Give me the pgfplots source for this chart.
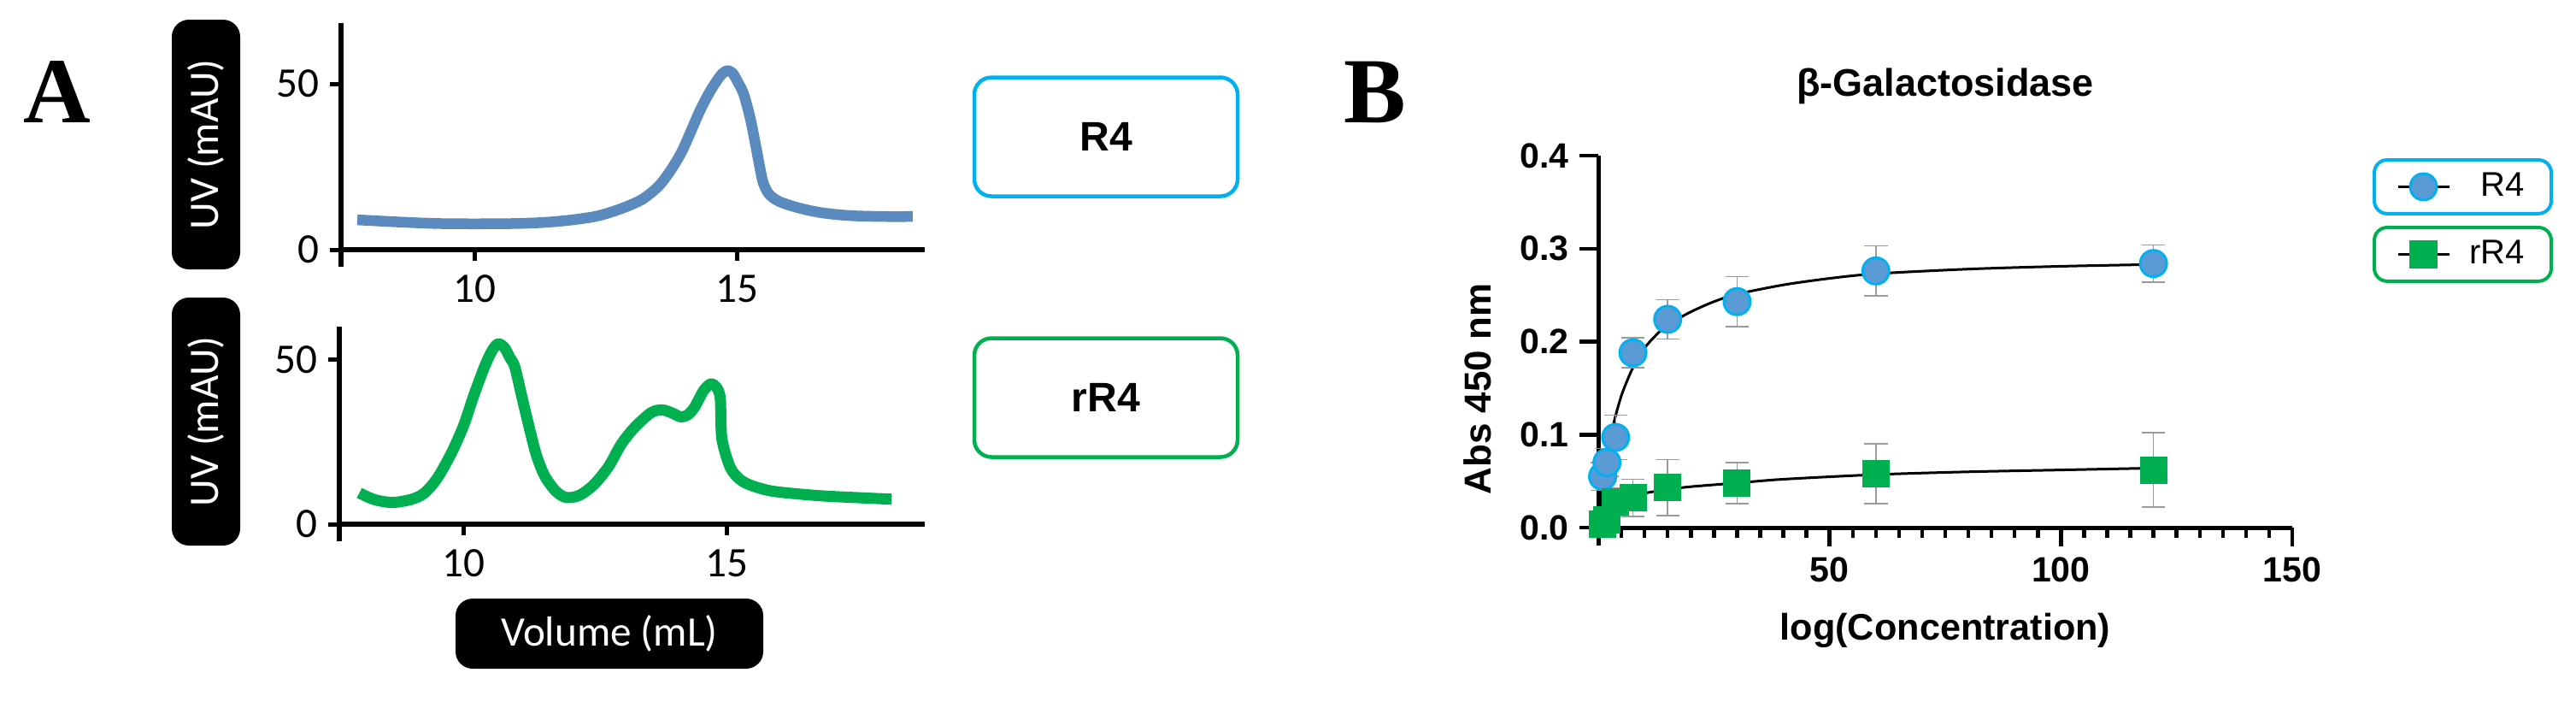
\documentclass[border=0pt]{standalone}
\usepackage{pgfplots}
\usepackage{pgfplotstable}
\pgfplotsset{compat=1.18}
\usepackage{fontspec}
\setmainfont{Liberation Sans}
\newfontfamily\carlito{Carlito}
\newfontfamily\timesf{Liberation Serif}

\definecolor{curveblue}{HTML}{5B8BBE}
\definecolor{curvegreen}{HTML}{00B050}
\definecolor{skyblue}{HTML}{00B0F0}
\definecolor{markblue}{HTML}{5B9BD5}
\definecolor{errgray}{HTML}{9A9A9A}

% SEC traces (volume, UV)
\pgfplotstableread{
x y
7.77 9.0
8.5 8.4
9.27 7.9
10.0 7.8
10.83 7.9
11.4 8.3
11.87 9.0
12.3 10.0
12.6 11.3
12.9 13.0
13.2 15.2
13.5 19.0
13.73 23.7
13.95 29.5
14.15 36.6
14.3 42.0
14.46 46.9
14.6 50.5
14.72 53.0
14.82 54.0
14.92 53.2
15.02 50.5
15.13 46.9
15.25 40.0
15.35 32.2
15.43 25.5
15.5 20.3
15.6 17.0
15.75 15.0
15.91 13.9
16.2 12.5
16.55 11.3
16.9 10.6
17.25 10.2
17.8 10.0
18.35 10.0
}\secRfour

\pgfplotstableread{
x y
8.02 9.5
8.3 7.5
8.64 6.6
9.0 7.5
9.25 9.4
9.5 14.0
9.77 21.7
10.0 30.0
10.19 39.0
10.4 48.0
10.55 53.0
10.66 54.8
10.78 53.5
10.88 50.5
10.97 47.8
11.1 39.0
11.23 30.3
11.38 21.0
11.54 14.6
11.75 10.0
11.95 8.1
12.2 8.8
12.47 12.0
12.75 17.5
12.99 24.3
13.25 29.5
13.56 33.9
13.77 34.7
13.95 33.8
14.12 32.6
14.25 33.2
14.38 35.5
14.55 40.5
14.69 42.6
14.8 41.5
14.87 38.1
14.9 26.0
15.06 17.2
15.25 13.5
15.47 11.7
15.8 10.2
16.2 9.4
16.8 8.6
17.42 8.1
18.12 7.6
}\secrRfour

% ELISA points (concentration, Abs, error)
\pgfplotstableread{
x y e
0.9375 0.055 0.015
1.875 0.070 0.015
3.75 0.097 0.024
7.5 0.188 0.016
15 0.224 0.021
30 0.243 0.027
60 0.276 0.027
120 0.284 0.020
}\ptsRfour

\pgfplotstableread{
x y e
0.9375 0.004 0.006
1.875 0.008 0.008
3.75 0.028 0.015
7.5 0.032 0.020
15 0.043 0.030
30 0.048 0.022
60 0.058 0.032
120 0.062 0.040
}\ptsrRfour

% fitted curves
\pgfplotstableread{
x y
0 0
1 0.045
2 0.080
3 0.105
4 0.125
5 0.142
6 0.155
7.5 0.172
10 0.193
12.5 0.207
15 0.218
20 0.232
25 0.243
30 0.251
40 0.261
50 0.268
60 0.273
80 0.278
100 0.281
120 0.283
}\fitRfour

\pgfplotstableread{
x y
0 0
1 0.010
2 0.018
3 0.023
4 0.027
5 0.030
7.5 0.034
10 0.037
15 0.041
20 0.044
30 0.048
40 0.052
60 0.057
80 0.060
100 0.062
120 0.064
}\fitrRfour

\pgfplotsset{
  secaxis/.style={
    scale only axis,
    axis lines*=left,
    axis line style={line width=0.6mm},
    y axis line style={shorten <=-2mm},
    tick align=outside,
    major tick length=1.3mm,
    tick style={black, line width=0.5mm},
    xtick={10,15}, ytick={0,50},
    /pgf/number format/assume math mode=true,
    ticklabel style={font=\carlito\fontsize{14}{16}\selectfont},
    xticklabel style={yshift=-0.4mm},
  },
}

\begin{document}
\begin{tikzpicture}
\path[use as bounding box] (0,0) rectangle (301.4mm,-82.7mm);

% panel letters
\node[anchor=base, inner sep=0, font=\timesf\bfseries\fontsize{31}{31}\selectfont] at (6.7mm,-14.3mm) {A};
\node[anchor=base, inner sep=0, font=\timesf\bfseries\fontsize{31}{31}\selectfont] at (160.9mm,-14.3mm) {B};

% black label boxes of panel A
\node[fill=black, rounded corners=2mm, rotate=90, inner sep=0, minimum width=29.2mm, minimum height=8mm,
      text=white, font=\carlito\fontsize{14}{16}\selectfont] at (24.1mm,-16.9mm) {UV (mAU)};
\node[fill=black, rounded corners=2mm, rotate=90, inner sep=0, minimum width=29mm, minimum height=8mm,
      text=white, font=\carlito\fontsize{14}{16}\selectfont] at (24.1mm,-49.3mm) {UV (mAU)};
\node[fill=black, rounded corners=2mm, inner sep=0, minimum width=36mm, minimum height=8.2mm,
      text=white, font=\carlito\fontsize{14}{16}\selectfont] at (71.3mm,-74.1mm) {Volume (mL)};

% sample boxes
\node[draw=skyblue, line width=0.45mm, rounded corners=2mm, minimum width=30.8mm, minimum height=13.9mm,
      font=\bfseries\fontsize{13.7}{16}\selectfont] at (129.4mm,-16mm) {R4};
\node[draw=curvegreen, line width=0.45mm, rounded corners=2mm, minimum width=30.8mm, minimum height=13.9mm,
      font=\bfseries\fontsize{13.7}{16}\selectfont] at (129.4mm,-46.5mm) {rR4};

% SEC, R4
\begin{axis}[secaxis,
  at={(39.9mm,-29.2mm)}, anchor=south west,
  width=68.3mm, height=26.5mm,
  xmin=7.46, xmax=18.58, ymin=0, ymax=68.3,
]
\addplot[curveblue, line width=1.25mm, line join=round, smooth] table {\secRfour};
\end{axis}

% SEC, rR4
\begin{axis}[secaxis,
  at={(39.7mm,-61.3mm)}, anchor=south west,
  width=68.5mm, height=23.1mm,
  xmin=7.64, xmax=18.75, ymin=0, ymax=60,
]
\addplot[curvegreen, line width=1.3mm, line join=round, smooth] table {\secrRfour};
\end{axis}

% binding curves
\begin{axis}[
  at={(187mm,-61.7mm)}, anchor=south west,
  scale only axis, width=81.2mm, height=43.5mm,
  xmin=0, xmax=150, ymin=0, ymax=0.4,
  axis lines*=left,
  axis line style={line width=0.5mm},
  y axis line style={shorten <=-2.1mm},
  xtick={50,100,150}, minor xtick={5,10,...,145},
  ytick={0,0.1,0.2,0.3,0.4},
  tick align=outside,
  major tick length=2.2mm, minor tick length=1.2mm,
  tick style={black, line width=0.45mm},
  /pgf/number format/assume math mode=true,
  ticklabel style={font=\bfseries\fontsize{11.7}{13}\selectfont},
  yticklabel style={/pgf/number format/.cd, fixed, fixed zerofill, precision=1},
  clip=false,
]
\addplot[black, line width=0.3mm, smooth] table {\fitRfour};
\addplot[black, line width=0.3mm, smooth] table {\fitrRfour};
\addplot[only marks, mark=*, mark size=4.4pt,
  mark options={fill=markblue, draw=skyblue, line width=0.3mm},
  error bars/.cd, y dir=both, y explicit,
  error bar style={errgray, line width=0.15mm},
  error mark options={rotate=90, errgray, mark size=3.9pt, line width=0.15mm}]
  table[x=x, y=y, y error=e] {\ptsRfour};
\addplot[only marks, mark=square*, mark size=4.35pt,
  mark options={fill=curvegreen, draw=curvegreen},
  error bars/.cd, y dir=both, y explicit,
  error bar style={errgray, line width=0.15mm},
  error mark options={rotate=90, errgray, mark size=3.9pt, line width=0.15mm}]
  table[x=x, y=y, y error=e] {\ptsrRfour};
\end{axis}

\node[anchor=base, font=\bfseries\fontsize{12.8}{14}\selectfont] at (227.6mm,-11.2mm) {β-Galactosidase};
\node[anchor=base, font=\bfseries\fontsize{12.3}{14}\selectfont] at (227.6mm,-74.8mm) {log(Concentration)};
\node[anchor=base, rotate=90, font=\bfseries\fontsize{12.5}{14}\selectfont] at (174.4mm,-45.5mm) {Abs 450 nm};

% legend, one box per series
\begin{axis}[
  at={(277.6mm,-18.5mm)}, anchor=north west,
  hide axis, scale only axis, width=1mm, height=1mm,
  xmin=0, xmax=1, ymin=0, ymax=1,
  legend style={at={(0,1)}, anchor=north west, draw=skyblue, line width=0.4mm,
    rounded corners=1.5mm, inner xsep=2.6mm, inner ysep=1mm,
    nodes={inner sep=0.5mm}, font=\fontsize{11.4}{13}\selectfont},
]
\addlegendimage{black, line width=0.3mm, mark=*, mark size=4.4pt,
  mark options={fill=markblue, draw=skyblue, line width=0.3mm}}
\addlegendentry{\makebox[8.2mm][r]{R4}}
\end{axis}
\begin{axis}[
  at={(277.6mm,-26.4mm)}, anchor=north west,
  hide axis, scale only axis, width=1mm, height=1mm,
  xmin=0, xmax=1, ymin=0, ymax=1,
  legend style={at={(0,1)}, anchor=north west, draw=curvegreen, line width=0.4mm,
    rounded corners=1.5mm, inner xsep=2.6mm, inner ysep=1mm,
    nodes={inner sep=0.5mm}, font=\fontsize{11.4}{13}\selectfont},
]
\addlegendimage{black, line width=0.3mm, mark=square*, mark size=4.35pt,
  mark options={fill=curvegreen, draw=curvegreen, sharp corners}}
\addlegendentry{\makebox[8.2mm][r]{rR4}}
\end{axis}
\end{tikzpicture}
\end{document}
